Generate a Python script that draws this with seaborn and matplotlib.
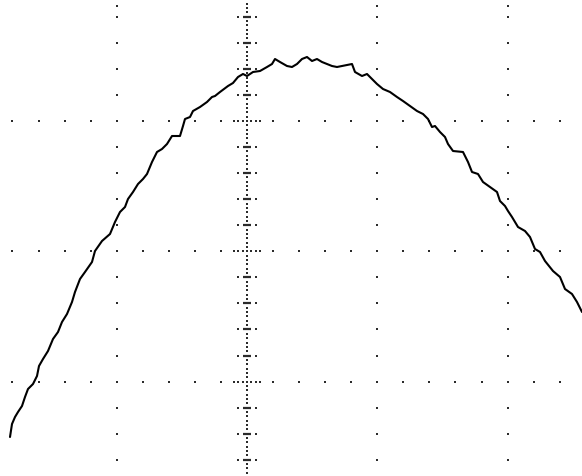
import numpy as np
import pandas as pd
import matplotlib
matplotlib.use("Agg")
import matplotlib.pyplot as plt
import seaborn as sns

# trace (screen units: x to the right, y downwards)
trace_x = [10, 12, 15, 18, 22, 25, 28, 33, 37, 39, 43, 48, 53, 58, 62, 67, 72,
           75, 80, 85, 92, 95, 102, 110, 115, 120, 125, 128, 133, 138, 143,
           147, 152, 157, 162, 167, 172, 180, 183, 185, 190, 193, 200, 207,
           212, 215, 220, 228, 233, 238, 243, 247, 253, 260, 267, 272, 275,
           280, 287, 292, 297, 302, 307, 312, 317, 322, 327, 332, 337, 342,
           347, 352, 355, 362, 367, 372, 377, 383, 390, 397, 403, 410, 417,
           423, 428, 432, 435, 440, 445, 448, 453, 463, 468, 472, 478, 483,
           490, 497, 500, 505, 508, 512, 518, 525, 530, 535, 540, 545, 553,
           560, 565, 572, 577, 582]
trace_y = [438, 425, 418, 413, 407, 398, 390, 385, 377, 367, 360, 352, 340,
           333, 323, 315, 303, 293, 280, 273, 263, 252, 242, 235, 223, 213,
           208, 200, 193, 185, 180, 175, 163, 153, 150, 145, 137, 137, 127,
           120, 118, 112, 108, 103, 98, 97, 93, 87, 84, 78, 75, 77, 73, 72,
           68, 65, 60, 63, 67, 68, 65, 60, 58, 62, 60, 63, 65, 67, 68, 67, 66,
           65, 73, 77, 75, 80, 85, 90, 93, 98, 102, 107, 112, 115, 120, 128,
           127, 133, 138, 145, 152, 153, 163, 173, 175, 183, 188, 193, 202,
           207, 212, 218, 228, 232, 238, 250, 253, 262, 272, 278, 290, 295,
           303, 313]

# screen layout
W, H = 582, 477
center_x = 247
div = 130.3
minor = div / 5
fine = minor / 6
major_x = [center_x - div, center_x + div, center_x + 2 * div]
major_y = [122, 122 + div, 122 + 2 * div]

sns.set_style("white")
fig = plt.figure(figsize=(5.82, 4.77), dpi=100)
ax = fig.add_axes([0, 0, 1, 1])

dot_kw = dict(marker="s", s=2.2, color="#2b2b2b", linewidths=0, zorder=1)

# dotted graticule: vertical lines
ys = np.arange(122 - 5 * minor, H, minor)
for gx in major_x:
    ax.scatter([gx] * (len(ys) + 1), list(ys) + [7], **dot_kw)

# horizontal lines
xs = np.arange(center_x - 9 * minor, W, minor)
xs = xs[np.abs(xs - center_x) > 1]
for gy in major_y:
    ax.scatter(xs, [gy] * len(xs), **dot_kw)

# centre axis with fine dots and ticks
fy = np.arange(122 - 28 * fine, H + fine, fine)
ax.scatter([center_x] * len(fy), fy, **dot_kw)
for ty in np.arange(122 - 4 * minor, H, minor):
    is_major = any(abs(ty - m) < 1 for m in major_y)
    if is_major:
        off = [-3, -2, -1, 1, 2, 3]
        ax.scatter([center_x + k * fine for k in off], [ty] * len(off), **dot_kw)
    else:
        ax.scatter([center_x - 2 * fine, center_x + 2 * fine], [ty, ty], **dot_kw)
        ax.plot([center_x - fine, center_x + fine], [ty, ty], color="#2b2b2b",
                lw=1.6, solid_capstyle="butt", zorder=1)

# the trace
df = pd.DataFrame({"x": trace_x, "y": trace_y})
sns.lineplot(data=df, x="x", y="y", sort=False, color="black", lw=1.5,
             ax=ax, zorder=3)

ax.set_xlim(0, W)
ax.set_ylim(H, 0)
ax.set_axis_off()
fig.savefig("out.png", dpi=100, facecolor="white")
